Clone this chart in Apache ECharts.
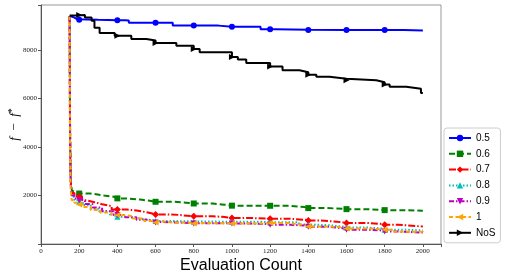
<!DOCTYPE html>
<html>
<head>
<meta charset="utf-8">
<script src="https://cdn.jsdelivr.net/npm/echarts@6/dist/echarts.min.js"></script>
<style>html,body{margin:0;padding:0;background:#fff}#c{width:505px;height:279px}</style>
</head>
<body>
<div id="c"></div>
<script>
// Series names
const seriesNames = ['0.5', '0.6', '0.7', '0.8', '0.9', '1', 'NoS'];
// Marker evaluation counts
const markerEvals = [200, 400, 600, 800, 1000, 1200, 1400, 1600, 1800];

// Step data: evaluation counts (x) and f - f* values (y)
const s05x = [150, 160, 175, 190, 300, 440, 460, 690, 930, 1150, 1230, 1400, 1900, 2000];
const s05y = [9400, 9330, 9260, 9240, 9225, 9210, 9115, 9000, 8950, 8850, 8830, 8815, 8800, 8790];

const s06x = [150, 152, 154, 156, 158, 162, 170, 185, 260, 330, 380, 450, 520, 570, 700, 760, 900, 960, 1150, 1300, 1380, 1500, 1580, 1700, 1780, 1900, 2000];
const s06y = [9400, 5200, 3600, 2800, 2400, 2200, 2120, 2080, 2000, 1950, 1880, 1830, 1780, 1740, 1700, 1670, 1620, 1580, 1575, 1520, 1480, 1450, 1437, 1410, 1396, 1370, 1368];

const s07x = [150, 152, 154, 156, 158, 162, 175, 195, 215, 240, 280, 320, 370, 450, 500, 560, 650, 720, 900, 950, 1100, 1180, 1300, 1380, 1450, 1550, 1700, 1780, 1870, 2000];
const s07y = [9400, 5000, 3300, 2600, 2300, 2100, 2000, 1960, 1800, 1720, 1640, 1560, 1420, 1380, 1300, 1220, 1200, 1140, 1120, 1070, 1050, 1040, 1000, 973, 920, 870, 830, 793, 720, 710];

const s08x = [150, 152, 154, 156, 158, 162, 175, 195, 220, 260, 300, 360, 390, 460, 520, 580, 700, 800, 1000, 1150, 1350, 1400, 1500, 1580, 1700, 1780, 1900, 2000];
const s08y = [9400, 4500, 3000, 2400, 2100, 1950, 1800, 1725, 1600, 1450, 1350, 1220, 1120, 1050, 980, 945, 930, 918, 918, 900, 800, 780, 720, 685, 640, 590, 560, 548];

const s09x = [150, 152, 154, 156, 158, 162, 175, 195, 230, 270, 320, 380, 440, 500, 560, 590, 700, 800, 1000, 1100, 1180, 1300, 1380, 1500, 1580, 1700, 1780, 1850, 2000];
const s09y = [9400, 4600, 3100, 2500, 2200, 2000, 1880, 1807, 1650, 1500, 1350, 1200, 1100, 1000, 920, 891, 860, 850, 840, 820, 794, 760, 712, 650, 590, 560, 520, 470, 452];

const s1x = [150, 152, 154, 156, 158, 162, 175, 195, 220, 260, 310, 370, 420, 480, 540, 590, 700, 800, 1000, 1180, 1300, 1380, 1500, 1580, 1700, 1780, 1850, 2000];
const s1y = [9400, 4300, 2800, 2200, 1950, 1800, 1700, 1630, 1520, 1400, 1300, 1200, 1150, 1050, 950, 891, 870, 850, 850, 862, 780, 726, 680, 643, 610, 588, 500, 466];

const sNoSx = [150, 190, 230, 265, 280, 307, 386, 473, 552, 600, 709, 800, 831, 1000, 1031, 1075, 1200, 1265, 1354, 1400, 1442, 1511, 1600, 1756, 1800, 1826, 1913, 1990, 2000];
const sNoSy = [9420, 9440, 9330, 9200, 8910, 8700, 8580, 8450, 8390, 8280, 8170, 8035, 7900, 7710, 7600, 7460, 7320, 7160, 7080, 6980, 6890, 6810, 6750, 6670, 6570, 6480, 6400, 6220, 6200];

const xTickLabels = ['0', '200', '400', '600', '800', '1000', '1200', '1400', '1600', '1800', '2000'];
const yTickLabels = ['2000', '4000', '6000', '8000'];

const colors = ['#0000ff', '#008000', '#ff0000', '#00bfbf', '#bf00bf', '#ffa500', '#000000'];
const symbols = ['circle', 'rect', 'diamond', 'triangle',
  'path://M0,0 L10,0 L5,10 Z', 'path://M10,0 L10,10 L0,5 Z', 'path://M0,0 L10,5 L0,10 Z'];
const symbolSizes = [6, 6, 7, 6, 6, 6, 6];
const dashTypes = ['solid', [6, 3], [7, 2, 1.5, 2], [1.5, 2], [5, 2, 1.5, 2], [4, 2.5], 'solid'];
const xs = [s05x, s06x, s07x, s08x, s09x, s1x, sNoSx];
const ys = [s05y, s06y, s07y, s08y, s09y, s1y, sNoSy];

function valueAt(x, y, e) {
  let v = y[0];
  for (let i = 0; i < x.length; i++) { if (x[i] <= e) v = y[i]; }
  return v;
}
function buildData(x, y) {
  const pts = x.map((v, i) => ({ value: [v, y[i]], symbol: 'none' }));
  markerEvals.forEach(m => pts.push({ value: [m, valueAt(x, y, m)], mk: true }));
  pts.sort((a, b) => a.value[0] - b.value[0] || (a.mk ? 1 : -1));
  return pts.map(p => p.mk ? { value: p.value } : p);
}

const series = seriesNames.map((n, i) => ({
  name: n, type: 'line', step: 'end',
  data: buildData(xs[i], ys[i]),
  symbol: symbols[i], symbolSize: symbolSizes[i], showSymbol: true,
  color: colors[i],
  itemStyle: { color: colors[i] },
  lineStyle: { color: colors[i], width: 2, type: dashTypes[i] },
  animation: false, z: i === 0 || i === 6 ? 3 : 2
}));

const chart = echarts.init(document.getElementById('c'), null, { renderer: 'canvas' });
chart.setOption({
  animation: false,
  grid: { left: 41, top: 5, right: 64, bottom: 35, show: true, borderColor: '#999', borderWidth: 1,
    containLabel: false, outerBoundsMode: 'none' },
  xAxis: {
    type: 'value', min: 0, max: 2095, interval: 200,
    name: 'Evaluation Count', nameLocation: 'middle', nameGap: 14, nameMoveOverlap: false,
    nameTextStyle: { fontFamily: 'Liberation Sans', fontSize: 16, color: '#000' },
    axisLine: { show: true, lineStyle: { color: '#555', width: 1 } },
    axisTick: { show: true, length: 3, lineStyle: { color: '#555' } },
    axisLabel: { fontFamily: 'Liberation Serif', fontSize: 7, color: '#222', margin: 4,
      formatter: v => xTickLabels.indexOf(String(v)) >= 0 ? String(v) : '' },
    splitLine: { show: false }
  },
  yAxis: {
    type: 'value', min: 0, max: 9850, interval: 2000,
    name: '{i|f}  −  {i|f}{s|*}', nameLocation: 'middle', nameGap: 18, nameRotate: 90, nameMoveOverlap: false,
    nameTextStyle: { color: '#000', fontFamily: 'Liberation Serif', fontSize: 13,
      rich: { i: { fontFamily: 'Liberation Serif', fontStyle: 'italic', fontSize: 13 },
              s: { fontFamily: 'Liberation Serif', fontSize: 10, verticalAlign: 'top', padding: [0, 0, 6, 0] } } },
    axisLine: { show: true, lineStyle: { color: '#555', width: 1 } },
    axisTick: { show: true, length: 3, lineStyle: { color: '#555' } },
    axisLabel: { fontFamily: 'Liberation Serif', fontSize: 7, color: '#222', margin: 4,
      formatter: v => yTickLabels.indexOf(String(v)) >= 0 ? String(v) : '' },
    splitLine: { show: false }
  },
  legend: {
    orient: 'vertical', left: 444, top: 128,
    data: seriesNames,
    itemWidth: 22, itemHeight: 8, itemGap: 5.8,
    padding: [5, 5, 5, 4],
    borderColor: '#ccc', borderWidth: 1, borderRadius: 3,
    backgroundColor: '#fff',
    textStyle: { fontFamily: 'Liberation Sans', fontSize: 10, color: '#000', padding: [0, 0, 0, 0] }
  },
  series: series
});
</script>
</body>
</html>
